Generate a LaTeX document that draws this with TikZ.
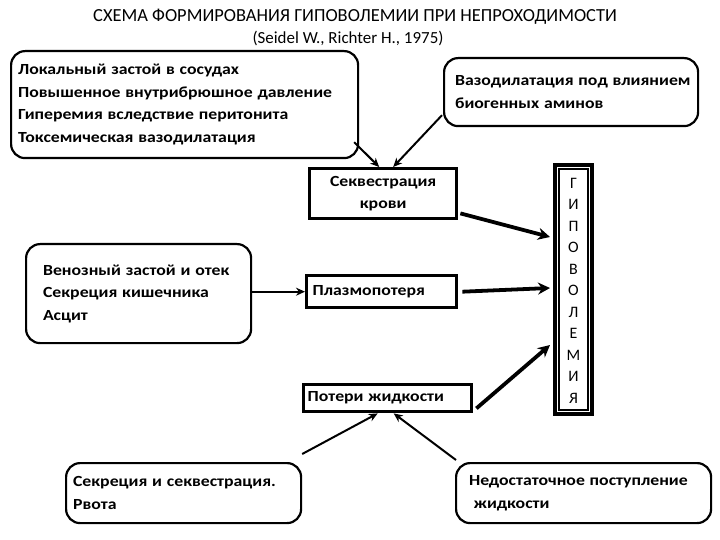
\documentclass[tikz,border=0pt]{standalone}
\usepackage{fontspec}
\setmainfont{Carlito}
\newfontfamily\boxfont{Carlito}[FakeStretch=1.15, WordSpace=1.2]
\usetikzlibrary{arrows.meta,calc}
\tikzset{
  boxtext/.style={font=\boxfont\bfseries\fontsize{15.5}{22.5}\selectfont},
  rbox/.style={draw, line width=2.2pt, rounded corners=14bp, anchor=north west, align=flush left, inner xsep=0pt, inner ysep=0pt, boxtext},
  sbox/.style={draw, line width=3.4pt, anchor=north west, inner sep=0pt, boxtext},
  thinarrow/.style={line width=2pt, -{Stealth[length=9bp,width=8bp]}},
  thickarrow/.style={line width=3.8pt, -{Stealth[length=12bp,width=12bp]}},
}
\begin{document}
\begin{tikzpicture}[x=1bp,y=-1bp]
\useasboundingbox[fill=white] (0,0) rectangle (720,540);
\node[font=\fontsize{18.5}{19}\selectfont] (title1) at (355,17) {СХЕМА ФОРМИРОВАНИЯ ГИПОВОЛЕМИИ ПРИ НЕПРОХОДИМОСТИ};
\node[font=\fontsize{17}{19}\selectfont] (title2) at (348,38) {(Seidel W., Richter H., 1975)};

\node[rbox, minimum width=347bp, minimum height=107bp, text width=333bp] (tl) at (10,50)
 {Локальный застой в сосудах\\Повышенное внутрибрюшное давление\\Гиперемия вследствие перитонита\\Токсемическая вазодилатация};
\node[rbox, minimum width=254bp, minimum height=68bp, text width=250bp] (tr) at (443,57)
 {\hspace*{9bp}Вазодилатация под влиянием\\\hspace*{9bp}биогенных аминов};
\node[sbox, minimum width=147bp, minimum height=50bp, align=center] (seq) at (308,167)
 {Секвестрация\\крови};
\node[rbox, minimum width=225bp, minimum height=99bp, text width=191bp] (ven) at (25,243)
 {Венозный застой и отек\\Секреция кишечника\\Асцит};
\node[sbox, minimum width=150bp, minimum height=32bp, text width=138bp, align=flush left] (pl) at (305,274)
 {Плазмопотеря};
\node[sbox, minimum width=168bp, minimum height=27bp, text width=160bp, align=flush left] (loss) at (302,383)
 {Потери жидкости};
\node[rbox, minimum width=235bp, minimum height=60bp, text width=221bp] (bl) at (65,462)
 {Секреция и секвестрация.\\Рвота};
\node[rbox, minimum width=255bp, minimum height=60bp, text width=229bp] (br) at (455,462)
 {Недостаточное поступление\\\ жидкости};

\node[draw, line width=4pt, anchor=north west, minimum width=37bp, minimum height=249bp, inner sep=0pt] (hyp) at (553,163) {};
\draw[line width=1.2pt] ([shift={(6,6)}]hyp.north west) rectangle ([shift={(-6,-6)}]hyp.south east);
\foreach \l [count=\i from 0] in {Г,И,П,О,В,О,Л,Е,М,И,Я}
  \node[font=\fontsize{16}{18}\selectfont, inner sep=0pt] (hl\i) at ($(hyp.north)+(0,20+21.5*\i)$) {\l};

\draw[thinarrow] ([shift={(-5,-17)}]tl.south east) -- ([xshift=-4bp]seq.north);
\draw[thinarrow] ([shift={(-1,-12)}]tr.south west) -- ([xshift=10bp]seq.north);
\draw[thickarrow] ([shift={(2,-7)}]seq.south east) -- ([shift={(-3,74)}]hyp.north west);
\draw[thinarrow] (ven.east |- pl.west) -- (pl.west);
\draw[thickarrow] ([xshift=4bp]pl.east) -- ([shift={(-3,125)}]hyp.north west);
\draw[thickarrow] ([shift={(3,-5)}]loss.south east) -- ([shift={(-3,182)}]hyp.north west);
\draw[thinarrow] ([shift={(0,-8)}]bl.north east) -- ([xshift=-10bp]loss.south);
\draw[thinarrow] ([shift={(1,-2)}]br.north west) -- ([xshift=6bp]loss.south);
\end{tikzpicture}
\end{document}
